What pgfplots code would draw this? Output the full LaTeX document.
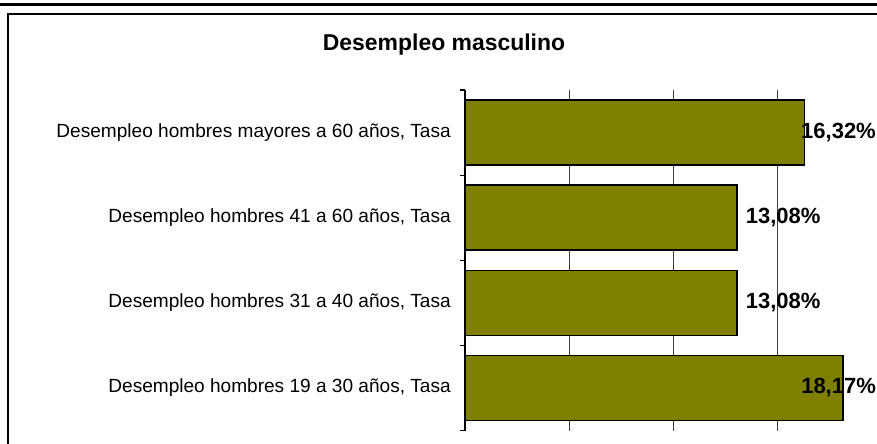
\documentclass[border=0pt]{standalone}
\usepackage{pgfplots}
\pgfplotsset{compat=1.18}
\usepackage{fontspec}
\setmainfont{Liberation Sans}
\definecolor{olivebar}{HTML}{808000}
\begin{document}
\begin{tikzpicture}
\useasboundingbox (0,0) rectangle (657.75pt,332.25pt);
\clip (0,0) rectangle (657.75pt,332.25pt);
\fill[white] (0,0) rectangle (657.75pt,332.25pt);
\draw[line width=2.25pt] (-5pt,328.5pt) -- (700pt,328.5pt);
\draw[line width=1.5pt] (6pt,-10pt) -- (6pt,321.75pt) -- (700pt,321.75pt);
\node[anchor=base, inner sep=0pt, font=\fontsize{17.2}{20}\selectfont\bfseries] at (333pt,294pt) {Desempleo masculino};
\begin{axis}[
  at={(348.75pt,9.375pt)}, anchor=south west,
  scale only axis, width=312pt, height=255.4pt,
  xbar, bar width=48.75pt,
  xmin=0, xmax=20, ymin=-0.5, ymax=3.5,
  axis y line*=left, axis x line*=bottom,
  x axis line style={draw=none},
  y axis line style={line width=1.1pt, black},
  xtick={0,5,10,15,20}, xticklabels={},
  xmajorgrids, major grid style={black!75, line width=0.75pt},
  ytick={0,1,2,3},
  yticklabels={Desempleo hombres 19 a 30 años\mbox{,} Tasa, Desempleo hombres 31 a 40 años\mbox{,} Tasa, Desempleo hombres 41 a 60 años\mbox{,} Tasa, Desempleo hombres mayores a 60 años\mbox{,} Tasa},
  major tick length=0pt,
  minor ytick={-0.5,0.5,1.5,2.5,3.5},
  minor tick length=3.75pt, tick align=outside,
  minor tick style={black, line width=0.9pt},
  yticklabel style={font=\fontsize{14.3}{17}\selectfont, inner sep=0pt, xshift=-10.5pt},
]
\addplot[fill=olivebar, draw=black, line width=1.1pt,
  point meta=x,
  visualization depends on={\thisrow{dx} \as \dx},
  nodes near coords={\pgfmathprintnumber[fixed,fixed zerofill,precision=2,use comma,assume math mode=true]{\pgfplotspointmeta}\%},
  nodes near coords style={anchor=west, inner sep=0pt, xshift=\dx pt, font=\fontsize{16.5}{19}\selectfont\bfseries, text=black}
] table {
x y dx
18.17 0 -31.8
13.08 1 6
13.08 2 6
16.32 3 -3.0
};
\end{axis}
\end{tikzpicture}
\end{document}
